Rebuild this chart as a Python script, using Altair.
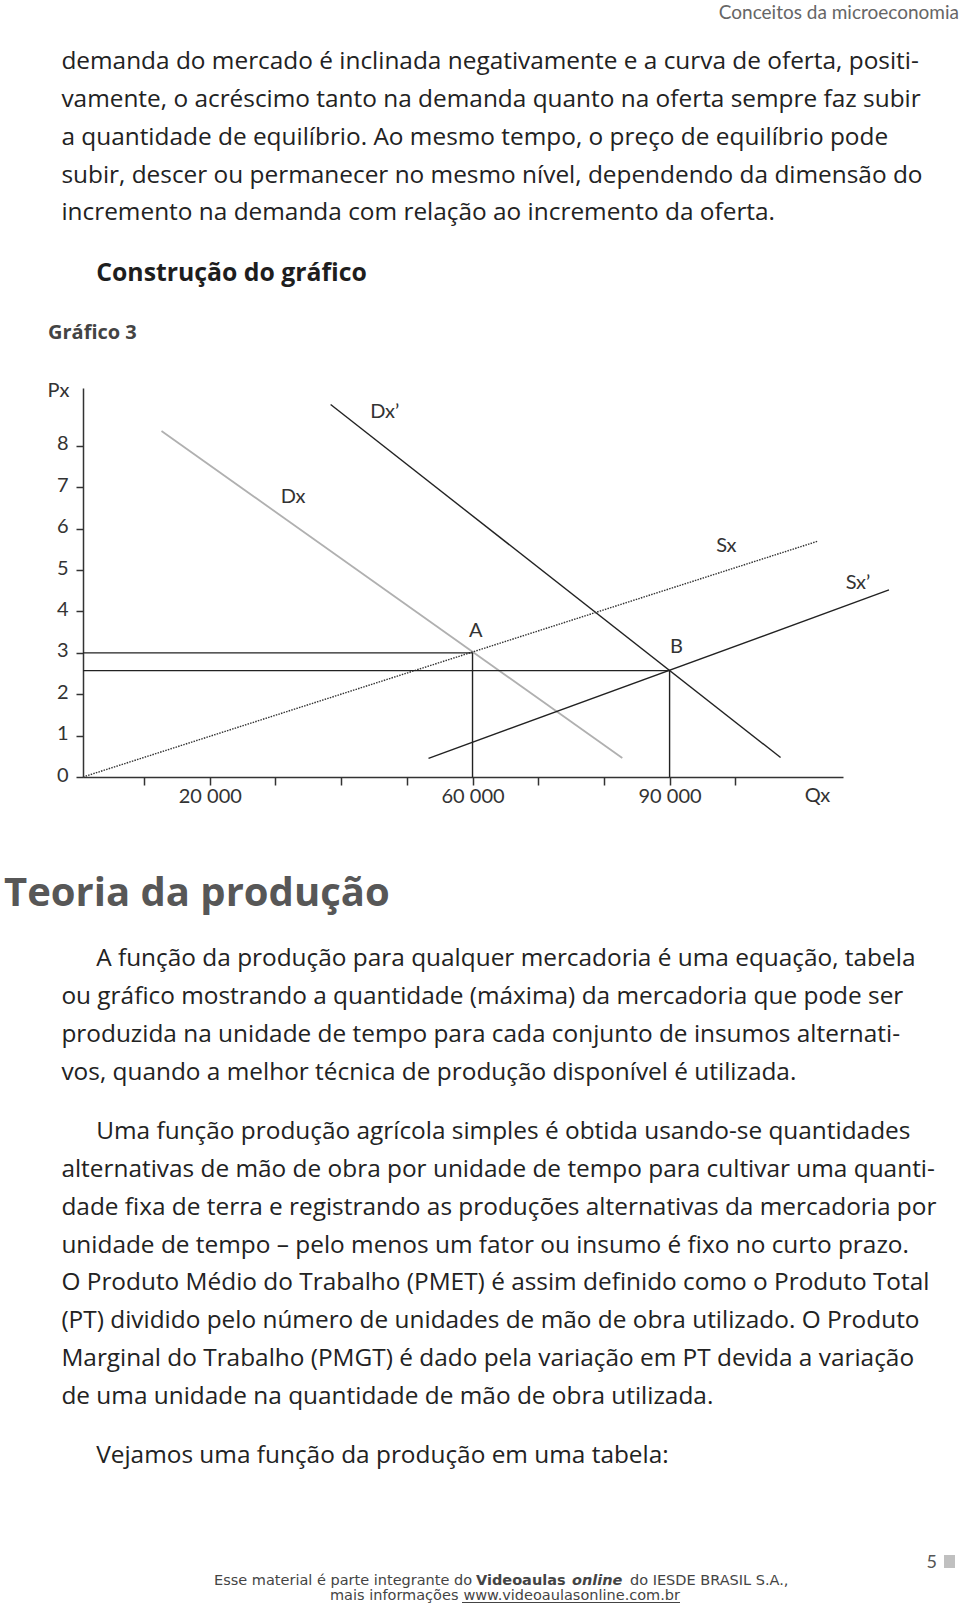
import altair as alt
import pandas as pd

# ---------------- chart data ----------------
dx_q = [12650, 82800]
dx_p = [8.36, 0.46]
dx2_q = [38400, 106900]
dx2_p = [9.0, 0.47]
sx_q = [700, 112600]
sx_p = [0.0, 5.7]
sx2_q = [53300, 123400]
sx2_p = [0.45, 4.52]

eq_names = ["A", "B"]
eq_q = [60000, 90000]
eq_p = [3.0, 2.57]

curve_labels = ["Dx’", "Dx", "Sx", "Sx’", "A", "B"]
label_q = [46640, 32680, 98650, 118680, 60490, 91030]
label_p = [8.81, 6.76, 5.58, 4.69, 3.54, 3.13]

x_min, x_max = 700, 116400
y_min, y_max = 0, 9.4
x_ticks = [10000, 20000, 30000, 40000, 50000, 60000, 70000, 80000, 90000, 100000]
x_tick_text = {20000: "20 000", 60000: "60 000", 90000: "90 000"}
y_ticks = [0, 1, 2, 3, 4, 5, 6, 7, 8]

# ---------------- page text ----------------
header = "Conceitos da microeconomia"
p1 = [
    "demanda do mercado é inclinada negativamente e a curva de oferta, positi-",
    "vamente, o acréscimo tanto na demanda quanto na oferta sempre faz subir",
    "a quantidade de equilíbrio. Ao mesmo tempo, o preço de equilíbrio pode",
    "subir, descer ou permanecer no mesmo nível, dependendo da dimensão do",
    "incremento na demanda com relação ao incremento da oferta.",
]
subtitle = "Construção do gráfico"
fig_label = "Gráfico 3"
section = "Teoria da produção"
p2 = [
    "A função da produção para qualquer mercadoria é uma equação, tabela",
    "ou gráfico mostrando a quantidade (máxima) da mercadoria que pode ser",
    "produzida na unidade de tempo para cada conjunto de insumos alternati-",
    "vos, quando a melhor técnica de produção disponível é utilizada.",
]
p3 = [
    "Uma função produção agrícola simples é obtida usando-se quantidades",
    "alternativas de mão de obra por unidade de tempo para cultivar uma quanti-",
    "dade fixa de terra e registrando as produções alternativas da mercadoria por",
    "unidade de tempo – pelo menos um fator ou insumo é fixo no curto prazo.",
    "O Produto Médio do Trabalho (PMET) é assim definido como o Produto Total",
    "(PT) dividido pelo número de unidades de mão de obra utilizado. O Produto",
    "Marginal do Trabalho (PMGT) é dado pela variação em PT devida a variação",
    "de uma unidade na quantidade de mão de obra utilizada.",
]
p4 = "Vejamos uma função da produção em uma tabela:"
foot1 = ["Esse material é parte integrante do", "Videoaulas", "online", "do IESDE BRASIL S.A.,"]
foot2 = ["mais informações", "www.videoaulasonline.com.br"]
page_no = "5"

# ---------------- layout ----------------
OX, OY = 83, 388          # page position of the plot origin
W, H = 760, 389
FONT = "Lato"
TEXTFONT = "Open Sans"
BODY = 24.4
LH = 37.87
DARK = "#222222"

def curve(q, p):
    return pd.DataFrame({"q": q, "p": p})

xs = alt.Scale(domain=[x_min, x_max], nice=False, zero=False)
ys = alt.Scale(domain=[y_min, y_max], nice=False, zero=False)

label_expr = " : ".join(
    [f"datum.value == {k} ? '{v}'" for k, v in x_tick_text.items()]
) + " : ''"

x_axis = alt.Axis(
    values=x_ticks, labelExpr=label_expr, grid=False,
    domainColor="#333", domainWidth=1.5, tickColor="#333", tickWidth=1.5,
    tickSize=8, labelFont=FONT, labelFontSize=20, labelColor="#333",
    labelPadding=1, labelFlush=False,
    title="Qx", titleFont=FONT, titleFontSize=20, titleFontWeight="normal",
    titleColor="#333", titleAnchor="start", titleAlign="center",
    titleBaseline="top", titleX=734, titleY=8, titlePadding=0,
)
y_axis = alt.Axis(
    values=y_ticks, grid=False, domainColor="#333", domainWidth=1.5,
    tickColor="#333", tickWidth=1.5, tickSize=7, labelFont=FONT,
    labelFontSize=20, labelColor="#333", labelPadding=8, labelOffset=-2,
    title="Px", titleFont=FONT, titleFontSize=20, titleFontWeight="normal",
    titleColor="#333", titleAngle=0, titleAnchor="start", titleAlign="center",
    titleBaseline="middle", titleX=-25, titleY=2,
)

dx = alt.Chart(curve(dx_q, dx_p)).mark_line(color="#b0b0b0", strokeWidth=1.8).encode(
    x=alt.X("q:Q", scale=xs, axis=x_axis),
    y=alt.Y("p:Q", scale=ys, axis=y_axis),
)
dx2 = alt.Chart(curve(dx2_q, dx2_p)).mark_line(color=DARK, strokeWidth=1.4).encode(
    x=alt.X("q:Q", scale=xs), y=alt.Y("p:Q", scale=ys)
)
sx = alt.Chart(curve(sx_q, sx_p)).mark_line(color="#333", strokeWidth=1.4, strokeDash=[1.5, 1.2]).encode(
    x=alt.X("q:Q", scale=xs), y=alt.Y("p:Q", scale=ys)
)
sx2 = alt.Chart(curve(sx2_q, sx2_p)).mark_line(color=DARK, strokeWidth=1.4).encode(
    x=alt.X("q:Q", scale=xs), y=alt.Y("p:Q", scale=ys)
)

eq = pd.DataFrame({"name": eq_names, "q": eq_q, "p": eq_p,
                   "q0": [x_min] * len(eq_q), "p0": [y_min] * len(eq_q)})
hguide = alt.Chart(eq).mark_rule(color=DARK, strokeWidth=1.4).encode(
    x=alt.X("q0:Q", scale=xs), x2=alt.X2("q:Q"), y=alt.Y("p:Q", scale=ys)
)
vguide = alt.Chart(eq).mark_rule(color=DARK, strokeWidth=1.4).encode(
    x=alt.X("q:Q", scale=xs), y=alt.Y("p0:Q", scale=ys), y2=alt.Y2("p:Q")
)

labels = pd.DataFrame({"t": curve_labels, "q": label_q, "p": label_p})
curve_text = alt.Chart(labels).mark_text(
    font=FONT, fontSize=20, color="#333", align="center", baseline="middle"
).encode(x=alt.X("q:Q", scale=xs), y=alt.Y("p:Q", scale=ys), text="t:N")

one = pd.DataFrame({"k": [0]})

def txt(text, px, py, **kw):
    base = dict(font=TEXTFONT, fontSize=BODY, color=DARK, align="left",
                baseline="alphabetic", lineHeight=LH)
    base.update(kw)
    return alt.Chart(one).mark_text(text=text, **base).encode(
        x=alt.value(px - OX), y=alt.value(py - OY)
    )

FOOT = dict(font="DejaVu Sans", fontSize=14.5, color="#444")
page = [
    txt(header, 959, 18.5, font=FONT, fontSize=19, color="#666", align="right"),
    txt(p1, 61.4, 69),
    txt(subtitle, 96.2, 281, fontSize=24.8, fontWeight="bold", color="#1e1e1e"),
    txt(fig_label, 48, 339, fontSize=20, fontWeight="bold", color="#444"),
    txt(section, 4, 906, fontSize=40, fontWeight="bold", color="#575757"),
    txt(p2[0], 96.2, 966),
    txt(p2[1:], 61.4, 966 + LH),
    txt(p3[0], 96.2, 1139),
    txt(p3[1:], 61.4, 1139 + LH),
    txt(p4, 96.2, 1463),
    txt(foot1[0], 214, 1585, **FOOT),
    txt(foot1[1], 476, 1585, fontWeight="bold", **FOOT),
    txt(foot1[2], 572, 1585, fontWeight="bold", fontStyle="italic", **FOOT),
    txt(foot1[3], 630, 1585, **FOOT),
    txt(foot2[0], 330, 1599.5, **FOOT),
    txt(foot2[1], 680, 1599.5, align="right", **FOOT),
    txt(page_no, 931.7, 1568, font=FONT, fontSize=18, color="#555", align="center"),
]
underline = alt.Chart(one).mark_rule(color="#444", strokeWidth=1).encode(
    x=alt.value(462 - OX), x2=alt.value(680 - OX), y=alt.value(1602.5 - OY)
)
square = alt.Chart(one).mark_rect(color="#c0c0c0").encode(
    x=alt.value(944 - OX), x2=alt.value(955 - OX), y=alt.value(1555 - OY), y2=alt.value(1568 - OY)
)

chart = alt.layer(
    dx, dx2, sx, sx2, hguide, vguide, curve_text, *page, underline, square
).properties(
    width=W, height=H,
    padding={"left": OX, "top": OY, "right": 960 - OX - W, "bottom": 1605 - OY - H},
    autosize=alt.AutoSizeParams(type="none"),
    background="white",
).configure_view(stroke=None)

chart.save("out.html", embed_options={"renderer": "svg", "actions": False})
